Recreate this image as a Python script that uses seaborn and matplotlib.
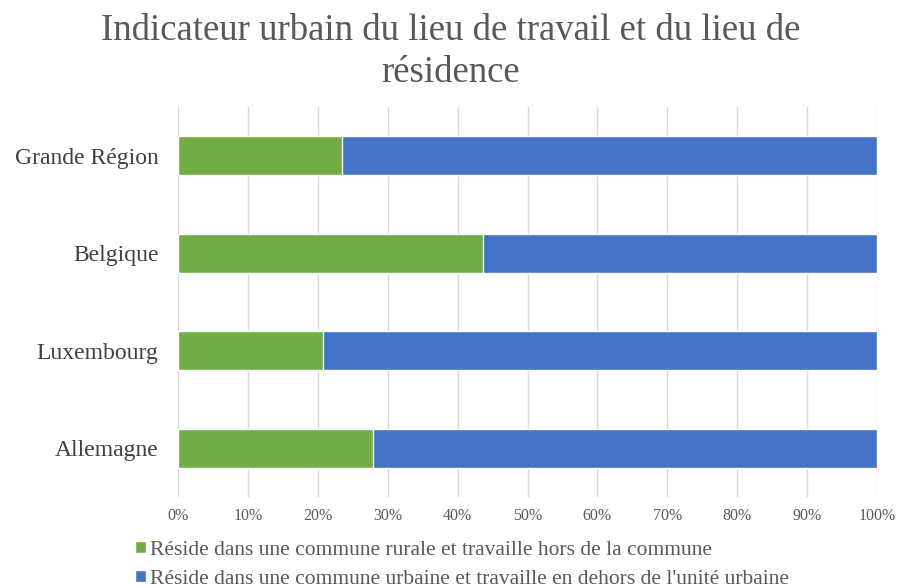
import matplotlib
matplotlib.use("Agg")
import matplotlib.pyplot as plt
import seaborn as sns
import pandas as pd
from matplotlib.ticker import FuncFormatter

categories = ["Grande Région", "Belgique", "Luxembourg", "Allemagne"]
rural = [23.5, 43.6, 20.7, 27.9]
urbain = [76.5, 56.4, 79.3, 72.1]
series_labels = [
    "Réside dans une commune rurale et travaille hors de la commune",
    "Réside dans une commune urbaine et travaille en dehors de l'unité urbaine",
]
title = "Indicateur urbain du lieu de travail et du lieu de\nrésidence"

sns.set_theme(style="white")
plt.rcParams["font.family"] = ["Liberation Serif", "DejaVu Serif"]

df = pd.DataFrame({"cat": categories, "rural": rural, "urbain": urbain})
df["total"] = df["rural"] + df["urbain"]

fig = plt.figure(figsize=(9.01, 5.87), dpi=100)
ax = fig.add_axes([178 / 901, 1 - 497 / 587, (877 - 178) / 901, (497 - 107) / 587])

green = "#70AD47"
blue = "#4472C4"

sns.barplot(data=df, x="total", y="cat", orient="h", color=blue, width=0.4,
            saturation=1, ax=ax, label=series_labels[1], zorder=2)
sns.barplot(data=df, x="rural", y="cat", orient="h", color=green, width=0.4,
            saturation=1, ax=ax, label=series_labels[0], zorder=3)

ax.set_xlim(0, 100)
ax.set_ylim(3.5, -0.5)
ax.set_xticks(range(0, 101, 10))
ax.xaxis.set_major_formatter(FuncFormatter(lambda v, p: f"{int(v)}%"))
ax.grid(axis="x", color="#D9D9D9", linewidth=1, zorder=0)
ax.set_axisbelow(True)
for s in ax.spines.values():
    s.set_visible(False)
ax.set_xlabel("")
ax.set_ylabel("")
ax.tick_params(axis="x", labelsize=11.5, labelcolor="#595959", length=0, pad=8)
ax.tick_params(axis="y", labelsize=17, labelcolor="#404040", length=0, pad=14)

fig.text(0.5, 1 - 13 / 587, title, ha="center", va="top", fontsize=26.5,
         color="#595959", linespacing=1.32)

handles, labels = ax.get_legend_handles_labels()
order = [labels.index(series_labels[0]), labels.index(series_labels[1])]
if ax.get_legend() is not None:
    ax.get_legend().remove()
fig.legend([handles[i] for i in order], [labels[i] for i in order],
           loc="upper left", bbox_to_anchor=(135 / 901, 1 - 541 / 587),
           frameon=False, fontsize=15.5, handlelength=0.5, handleheight=0.5,
           handletextpad=0.2, labelspacing=0.45, borderpad=0, borderaxespad=0,
           labelcolor="#595959")

fig.savefig("out.png", dpi=100)
